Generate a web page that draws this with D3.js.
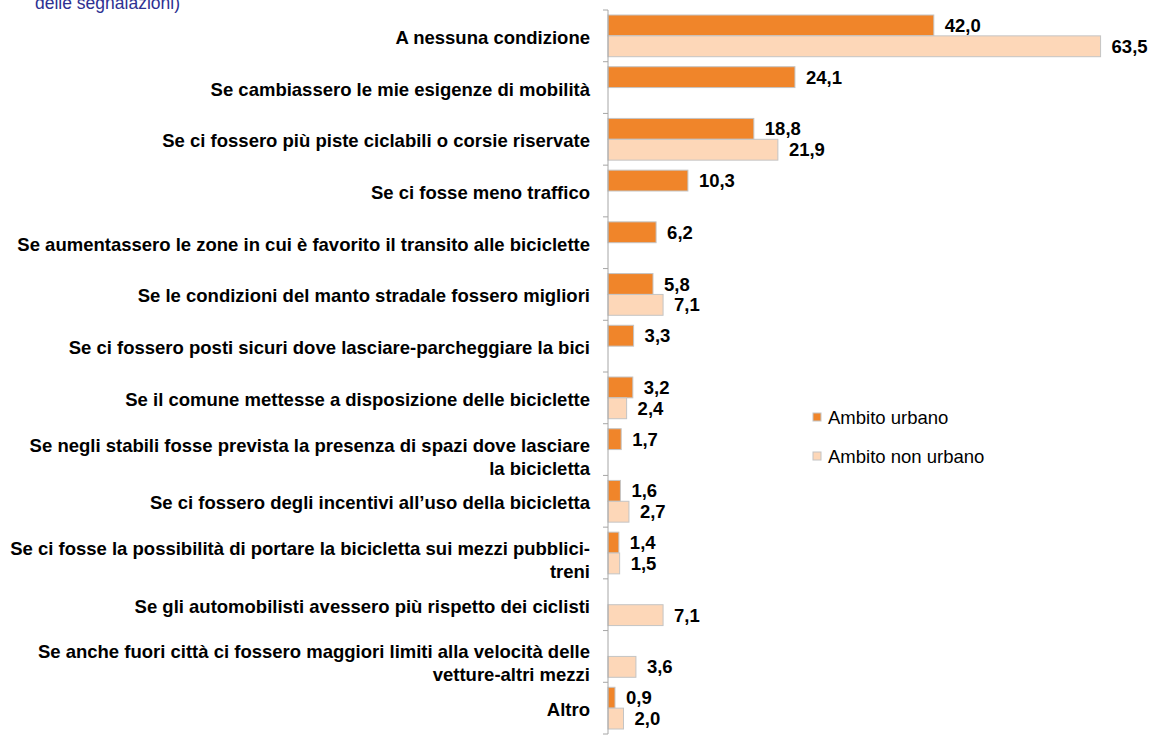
<!DOCTYPE html>
<html lang="it">
<head>
<meta charset="utf-8">
<title>Condizioni uso bicicletta</title>
<style>
  body { margin: 0; background: #fff; }
  svg text { font-family: "Liberation Sans", Arial, sans-serif; }
</style>
<script src="https://d3js.org/d3.v7.min.js"></script>
</head>
<body>
<script>
// categories (multi-line labels split with "|")
var categories = [
  "A nessuna condizione",
  "Se cambiassero le mie esigenze di mobilità",
  "Se ci fossero più piste ciclabili o corsie riservate",
  "Se ci fosse meno traffico",
  "Se aumentassero le zone in cui è favorito il transito alle biciclette",
  "Se le condizioni del manto stradale fossero migliori",
  "Se ci fossero posti sicuri dove lasciare-parcheggiare la bici",
  "Se il comune mettesse a disposizione delle biciclette",
  "Se negli stabili fosse prevista la presenza di spazi dove lasciare|la bicicletta",
  "Se ci fossero degli incentivi all\u2019uso della bicicletta",
  "Se ci fosse la possibilità di portare la bicicletta sui mezzi pubblici-|treni",
  "Se gli automobilisti avessero più rispetto dei ciclisti",
  "Se anche fuori città ci fossero maggiori limiti alla velocità delle|vetture-altri mezzi",
  "Altro"
];
var urbano    = [42.0, 24.1, 18.8, 10.3, 6.2, 5.8, 3.3, 3.2, 1.7, 1.6, 1.4, null, null, 0.9];
var nonUrbano = [63.5, null, 21.9, null, null, 7.1, null, 2.4, null, 2.7, 1.5, 7.1, 3.6, 2.0];
var seriesNames = ["Ambito urbano", "Ambito non urbano"];
var colors = ["#f0852a", "#fdd7b8"];

var w = 1151, h = 737;
var svg = d3.select("body").append("svg").attr("width", w).attr("height", h);

// title remnant at top (cut off in the original too)
svg.append("text")
  .attr("x", 35).attr("y", 9)
  .attr("font-size", "17.5px").attr("fill", "#2e3192")
  .text("delle segnalazioni)");

var y = d3.scaleBand().domain(d3.range(categories.length)).range([10, 734]);
var x = d3.scaleLinear().domain([0, 70]).range([608, 1151]);
var inner = d3.scaleBand().domain([0, 1]).range([5, y.bandwidth() - 5]);

var series = [urbano, nonUrbano];
series.forEach(function(vals, s) {
  var g = svg.append("g");
  var data = vals.map((v, i) => ({v: v, i: i})).filter(d => d.v !== null);
  g.selectAll("rect").data(data).enter().append("rect")
    .attr("x", x(0))
    .attr("y", d => y(d.i) + inner(s))
    .attr("width", d => x(d.v) - x(0))
    .attr("height", inner.bandwidth())
    .attr("fill", colors[s])
    .attr("stroke", "#c4c4c4")
    .attr("stroke-width", 1);
  g.selectAll("text").data(data).enter().append("text")
    .attr("x", d => x(d.v) + 11)
    .attr("y", d => y(d.i) + inner(s) + inner.bandwidth() / 2 + 6.5)
    .attr("font-size", "18.5px").attr("font-weight", "bold").attr("fill", "#000")
    .text(d => d3.format(".1f")(d.v).replace(".", ","));
});

// axis line and tick marks
svg.append("line")
  .attr("x1", x(0)).attr("x2", x(0))
  .attr("y1", y.range()[0]).attr("y2", y.range()[1])
  .attr("stroke", "#a6a6a6");
svg.selectAll("line.tick").data(d3.range(categories.length + 1)).enter().append("line")
  .attr("class", "tick")
  .attr("x1", x(0) - 5).attr("x2", x(0))
  .attr("y1", d => y.range()[0] + d * y.step())
  .attr("y2", d => y.range()[0] + d * y.step())
  .attr("stroke", "#a6a6a6");

// category labels
var labels = svg.selectAll("text.cat").data(categories).enter().append("text")
  .attr("class", "cat")
  .attr("text-anchor", "end")
  .attr("font-size", "18.5px").attr("font-weight", "bold").attr("fill", "#000");
labels.each(function(d, i) {
  var lines = d.split("|");
  var cy = y(i) + y.bandwidth() / 2;
  var start = lines.length > 1 ? cy + 2 : cy + 8;
  d3.select(this).selectAll("tspan").data(lines).enter().append("tspan")
    .attr("x", 590)
    .attr("y", (l, k) => start + k * 23)
    .text(l => l);
});

// legend
var legend = svg.append("g");
seriesNames.forEach(function(name, s) {
  legend.append("rect")
    .attr("x", 813).attr("y", 413 + s * 39)
    .attr("width", 8).attr("height", 8)
    .attr("fill", colors[s]).attr("stroke", "#c4c4c4");
  legend.append("text")
    .attr("x", 828).attr("y", 424 + s * 39)
    .attr("font-size", "18.5px").attr("fill", "#000")
    .text(name);
});
</script>
</body>
</html>
